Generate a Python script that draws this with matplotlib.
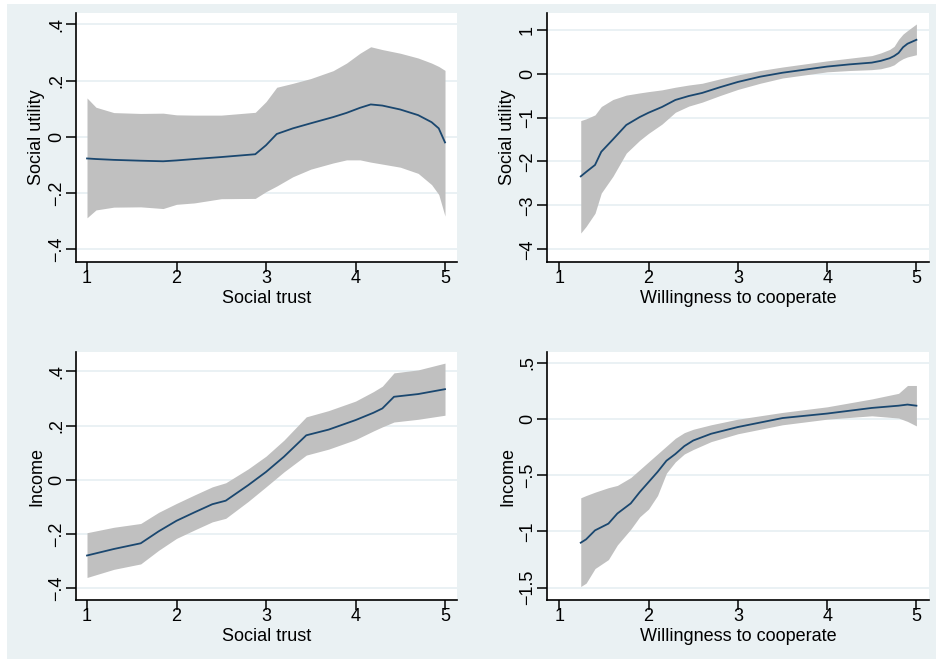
import matplotlib
matplotlib.use("Agg")
import matplotlib.pyplot as plt
from matplotlib.patches import Rectangle

plt.rcParams['font.family'] = ['Liberation Sans', 'DejaVu Sans']

# ---------------- data ----------------
# Panel 1: Social trust -> Social utility
st_x = [1.0, 1.1, 1.3, 1.6, 1.85, 2.0, 2.2, 2.5, 2.88, 3.0, 3.12, 3.3, 3.5, 3.75,
        3.9, 4.05, 4.17, 4.3, 4.5, 4.7, 4.85, 4.93, 5.0]
su_fit = [-0.077, -0.079, -0.082, -0.085, -0.087, -0.084, -0.079, -0.072, -0.062, -0.03,
          0.01, 0.03, 0.048, 0.07, 0.085, 0.103, 0.115, 0.111, 0.097, 0.077, 0.052, 0.03, -0.02]
su_hi = [0.138, 0.105, 0.086, 0.083, 0.084, 0.078, 0.077, 0.077, 0.087, 0.125,
         0.176, 0.19, 0.207, 0.235, 0.262, 0.297, 0.32, 0.31, 0.297, 0.28, 0.262, 0.25, 0.236]
su_lo = [-0.288, -0.26, -0.25, -0.249, -0.255, -0.24, -0.235, -0.22, -0.219, -0.195,
         -0.175, -0.142, -0.115, -0.093, -0.082, -0.082, -0.09, -0.097, -0.108, -0.13,
         -0.17, -0.205, -0.282]

# Panel 2: Willingness to cooperate -> Social utility
wc_x = [1.24, 1.3, 1.4, 1.47, 1.6, 1.75, 1.9, 2.0, 2.15, 2.3, 2.45, 2.6, 2.8, 3.0, 3.25,
        3.5, 3.75, 4.0, 4.25, 4.5, 4.6, 4.7, 4.75, 4.8, 4.85, 4.9, 5.0]
wsu_fit = [-2.34, -2.24, -2.08, -1.78, -1.5, -1.17, -0.99, -0.89, -0.76, -0.6, -0.51, -0.44,
           -0.31, -0.19, -0.07, 0.02, 0.09, 0.16, 0.21, 0.25, 0.29, 0.35, 0.4, 0.47, 0.6, 0.68, 0.77]
wsu_hi = [-1.07, -1.03, -0.94, -0.75, -0.59, -0.49, -0.44, -0.41, -0.37, -0.31, -0.26, -0.22,
          -0.12, -0.03, 0.07, 0.15, 0.22, 0.29, 0.35, 0.41, 0.47, 0.55, 0.62, 0.78, 0.9, 0.98, 1.13]
wsu_lo = [-3.63, -3.48, -3.18, -2.72, -2.34, -1.81, -1.52, -1.36, -1.15, -0.88, -0.74, -0.65,
          -0.5, -0.36, -0.22, -0.1, -0.03, 0.04, 0.07, 0.09, 0.11, 0.16, 0.2, 0.28, 0.34, 0.38, 0.43]

# Panel 3: Social trust -> Income
st2_x = [1.0, 1.3, 1.6, 1.8, 2.0, 2.2, 2.4, 2.55, 2.8, 3.0, 3.2, 3.45, 3.7, 4.0, 4.2, 4.3,
         4.43, 4.7, 5.0]
inc_fit = [-0.279, -0.255, -0.234, -0.19, -0.151, -0.12, -0.09, -0.077, -0.02, 0.029, 0.085,
           0.164, 0.185, 0.22, 0.247, 0.263, 0.306, 0.316, 0.334]
inc_hi = [-0.195, -0.175, -0.161, -0.12, -0.087, -0.056, -0.026, -0.011, 0.04, 0.087, 0.146,
          0.232, 0.255, 0.29, 0.325, 0.345, 0.394, 0.405, 0.43]
inc_lo = [-0.36, -0.33, -0.31, -0.26, -0.216, -0.185, -0.155, -0.142, -0.08, -0.026, 0.029,
          0.091, 0.113, 0.148, 0.18, 0.195, 0.213, 0.223, 0.238]

# Panel 4: Willingness to cooperate -> Income
wc2_x = [1.24, 1.3, 1.4, 1.55, 1.65, 1.8, 1.9, 2.0, 2.1, 2.2, 2.3, 2.4, 2.5, 2.7, 3.0, 3.5,
         4.0, 4.5, 4.8, 4.9, 5.0]
winc_fit = [-1.10, -1.07, -0.99, -0.93, -0.84, -0.75, -0.65, -0.56, -0.47, -0.37, -0.31,
            -0.24, -0.19, -0.13, -0.07, 0.01, 0.05, 0.10, 0.12, 0.13, 0.12]
winc_hi = [-0.70, -0.68, -0.65, -0.61, -0.59, -0.52, -0.45, -0.38, -0.31, -0.24, -0.17,
           -0.12, -0.09, -0.05, 0.0, 0.06, 0.11, 0.18, 0.23, 0.30, 0.30]
winc_lo = [-1.49, -1.46, -1.33, -1.25, -1.12, -0.98, -0.87, -0.80, -0.68, -0.48, -0.38,
           -0.31, -0.27, -0.2, -0.13, -0.05, 0.0, 0.03, 0.01, -0.02, -0.06]

x_ticks = [1, 2, 3, 4, 5]
yt_su = [-0.4, -0.2, 0, 0.2, 0.4]
yl_su = ["\u2212.4", "\u2212.2", "0", ".2", ".4"]
yt_wsu = [-4, -3, -2, -1, 0, 1]
yl_wsu = ["\u22124", "\u22123", "\u22122", "\u22121", "0", "1"]
yt_inc = [-0.4, -0.2, 0, 0.2, 0.4]
yl_inc = ["\u2212.4", "\u2212.2", "0", ".2", ".4"]
yt_winc = [-1.5, -1, -0.5, 0, 0.5]
yl_winc = ["\u22121.5", "\u22121", "\u2212.5", "0", ".5"]

# ---------------- style ----------------
W, H = 936, 659
BG = '#eaf1f3'
GRID = '#e6eff2'
BAND = '#c0c0c0'
LINE = '#1a476f'
FS = 13

fig = plt.figure(figsize=(W / 100, H / 100), dpi=100, facecolor='white')
fig.patches.append(Rectangle((7 / W, 0), 1 - 7 / W, 1 - 4 / H, transform=fig.transFigure,
                             facecolor=BG, edgecolor='none', zorder=-10))


def make_ax(l, r, t, b):
    return fig.add_axes([l / W, 1 - b / H, (r - l) / W, (b - t) / H])


panels = [
    (make_ax(76, 457, 13, 262), st_x, su_fit, su_lo, su_hi, (0.877, 5.134), (-0.445, 0.44),
     yt_su, yl_su, "Social trust", "Social utility"),
    (make_ax(547, 929, 13, 262), wc_x, wsu_fit, wsu_lo, wsu_hi, (0.862, 5.141), (-4.29, 1.38),
     yt_wsu, yl_wsu, "Willingness to cooperate", "Social utility"),
    (make_ax(76, 457, 352, 600), st2_x, inc_fit, inc_lo, inc_hi, (0.877, 5.134), (-0.443, 0.471),
     yt_inc, yl_inc, "Social trust", "Income"),
    (make_ax(547, 929, 352, 600), wc2_x, winc_fit, winc_lo, winc_hi, (0.862, 5.141), (-1.61, 0.598),
     yt_winc, yl_winc, "Willingness to cooperate", "Income"),
]

for ax, x, fit, lo, hi, xl, yl, yt, ytl, xlab, ylab in panels:
    ax.set_facecolor('white')
    ax.fill_between(x, lo, hi, color=BAND, linewidth=0, zorder=2)
    ax.plot(x, fit, color=LINE, lw=1.3, zorder=3)
    ax.set_xlim(*xl)
    ax.set_ylim(*yl)
    ax.set_xticks(x_ticks)
    ax.set_xticklabels([str(v) for v in x_ticks], fontsize=FS)
    ax.set_yticks(yt)
    ax.set_yticklabels(ytl, fontsize=FS, rotation=90, va='center')
    for y in yt:
        ax.axhline(y, color=GRID, lw=1.2, zorder=1)
    for s in ['top', 'right']:
        ax.spines[s].set_visible(False)
    for s in ['left', 'bottom']:
        ax.spines[s].set_color('black')
        ax.spines[s].set_linewidth(1.2)
    ax.tick_params(axis='both', direction='out', length=7, width=1.1, color='black',
                   labelcolor='black')
    ax.tick_params(axis='x', pad=-1)
    ax.tick_params(axis='y', pad=1)
    ax.set_xlabel(xlab, fontsize=FS, labelpad=2)
    ax.set_ylabel(ylab, fontsize=FS, labelpad=2)

fig.savefig("out.png", dpi=100, facecolor=fig.get_facecolor())
